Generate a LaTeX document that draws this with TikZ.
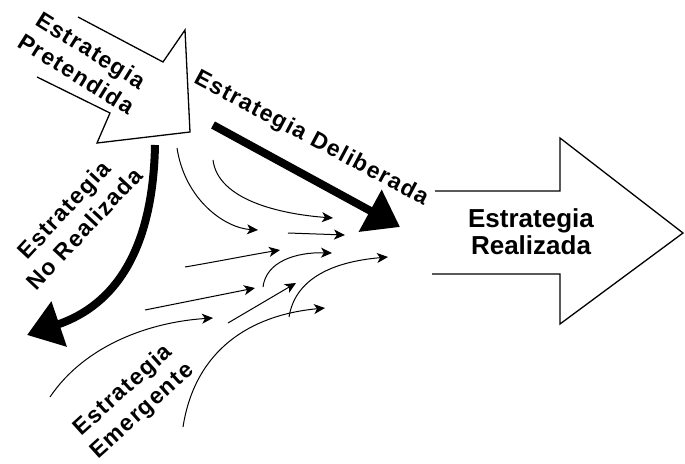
\documentclass[tikz,border=0pt]{standalone}
\usepackage{fontspec}
\setmainfont{Liberation Sans}
\newfontfamily\tiltfont[LetterSpace=6]{Liberation Sans}
\usetikzlibrary{arrows.meta}
\newcommand{\tiltlabel}[4]{
    \node[
        font=\tiltfont\bfseries\fontsize{23}{28}\selectfont,
        align=center,
        inner sep=0pt,
        rotate=#2
    ] (#1) at (#3) {#4};
}

\begin{document}
\begin{tikzpicture}[x=1pt,y=-1pt,
    blockarrow/.style={draw=black,line width=1.3pt,line join=miter},
    thickflow/.style={line width=8pt,-{Triangle[length=34pt,width=46pt]}},
    thinflow/.style={line width=1pt,-{Stealth[length=11pt,width=10pt,inset=3pt]}}]
    \useasboundingbox (0,0) rectangle (685,463);

    % intended strategy (open block arrow)
    \draw[blockarrow] (78,17) -- (163,62) -- (185,30) -- (190,132) -- (97,143) -- (110,113) -- (37,77);
    \tiltlabel{pretend}{-32}{84,62}{Estrategia\\Pretendida}

    % realized strategy (open block arrow)
    \draw[blockarrow] (435,191) -- (560,191) -- (560,138) -- (683,233) -- (560,324) -- (560,274) -- (432,274);
    \node[font=\bfseries\fontsize{26}{27}\selectfont,align=center,inner sep=0pt] (realiz) at (531,232) {Estrategia\\Realizada};

    % deliberate and unrealized strategy
    \coordinate (delibA) at (213,125);
    \coordinate (delibB) at (400,227);
    \draw[thickflow] (delibA) -- (delibB);
    \tiltlabel{delib}{-28}{311,139}{Estrategia Deliberada}

    \coordinate (unrealA) at (155,145);
    \coordinate (unrealB) at (27,335);
    \draw[thickflow] (unrealA) .. controls (153,250) and (115,305) .. (unrealB);
    \tiltlabel{unreal}{47}{74,219}{Estrategia\\No Realizada}

    % emergent strategy
    \coordinate (em1a) at (177,148);  \coordinate (em1b) at (258,230);
    \coordinate (em2a) at (213,160);  \coordinate (em2b) at (333,218);
    \coordinate (em3a) at (288,233);  \coordinate (em3b) at (345,235);
    \coordinate (em4a) at (185,267);  \coordinate (em4b) at (280,250);
    \coordinate (em5a) at (263,287);  \coordinate (em5b) at (332,253);
    \coordinate (em6a) at (289,317);  \coordinate (em6b) at (388,257);
    \coordinate (em7a) at (145,310);  \coordinate (em7b) at (255,288);
    \coordinate (em8a) at (228,323);  \coordinate (em8b) at (296,283);
    \coordinate (em9a) at (50,397);   \coordinate (em9b) at (213,318);
    \coordinate (em10a) at (183,427); \coordinate (em10b) at (325,308);

    \draw[thinflow] (em1a) .. controls (185,200) and (225,228) .. (em1b);
    \draw[thinflow] (em2a) .. controls (218,200) and (280,214) .. (em2b);
    \draw[thinflow] (em3a) -- (em3b);
    \draw[thinflow] (em4a) .. controls (220,261) and (250,255) .. (em4b);
    \draw[thinflow] (em5a) .. controls (266,262) and (295,252) .. (em5b);
    \draw[thinflow] (em6a) .. controls (295,280) and (330,262) .. (em6b);
    \draw[thinflow] (em7a) -- (em7b);
    \draw[thinflow] (em8a) -- (em8b);
    \draw[thinflow] (em9a) .. controls (85,345) and (150,322) .. (em9b);
    \draw[thinflow] (em10a) .. controls (195,350) and (250,315) .. (em10b);
    \tiltlabel{emerg}{42}{133,401}{Estrategia\\Emergente}
\end{tikzpicture}
\end{document}
